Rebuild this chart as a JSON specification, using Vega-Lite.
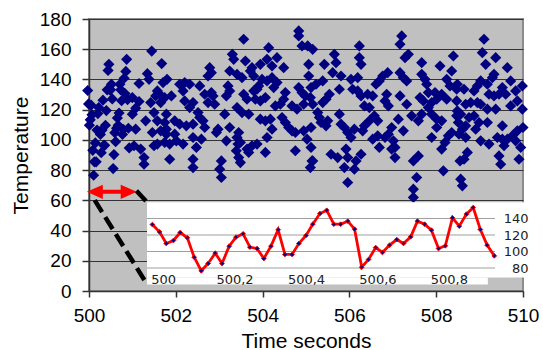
{
  "$schema": "https://vega.github.io/schema/vega-lite/v6.json",
  "width": 434,
  "height": 272,
  "autosize": {"type": "none"},
  "padding": {"left": 89, "top": 19, "right": 20, "bottom": 59},
  "background": "white",
  "config": {
    "view": {"fill": "#C0C0C0", "stroke": "#8c8c8c", "strokeWidth": 2}
  },
  "datasets": {
    "series": [
      {"t":499.970,"v":132.7},{"t":499.990,"v":123.8},{"t":500.009,"v":109.7},{"t":500.029,"v":113.3},{"t":500.048,"v":123.0},
      {"t":500.068,"v":116.6},{"t":500.087,"v":93.1},{"t":500.107,"v":76.6},{"t":500.126,"v":85.5},{"t":500.146,"v":98.0},
      {"t":500.165,"v":85.5},{"t":500.185,"v":106.5},{"t":500.204,"v":117.4},{"t":500.224,"v":121.4},{"t":500.243,"v":105.3},
      {"t":500.263,"v":103.6},{"t":500.282,"v":91.5},{"t":500.302,"v":106.5},{"t":500.322,"v":126.3},{"t":500.341,"v":96.4},
      {"t":500.361,"v":96.4},{"t":500.380,"v":109.7},{"t":500.400,"v":119.4},{"t":500.419,"v":133.1},{"t":500.439,"v":146.0},
      {"t":500.458,"v":150.0},{"t":500.478,"v":133.1},{"t":500.497,"v":133.1},{"t":500.517,"v":136.8},{"t":500.536,"v":127.1},
      {"t":500.556,"v":81.0},{"t":500.575,"v":90.3},{"t":500.595,"v":104.8},{"t":500.614,"v":98.8},{"t":500.634,"v":107.7},
      {"t":500.654,"v":114.5},{"t":500.673,"v":109.7},{"t":500.693,"v":117.8},{"t":500.712,"v":136.8},{"t":500.732,"v":133.1},
      {"t":500.751,"v":125.9},{"t":500.771,"v":103.6},{"t":500.790,"v":106.9},{"t":500.810,"v":140.8},{"t":500.829,"v":130.7},
      {"t":500.849,"v":145.3},{"t":500.868,"v":153.3},{"t":500.888,"v":126.7},{"t":500.907,"v":107.7},{"t":500.927,"v":94.7},
      {"t":501.445,"v":158.8},{"t":501.675,"v":150.5},{"t":501.345,"v":143.8},{"t":501.383,"v":140.1},{"t":501.153,"v":137.3},
      {"t":501.575,"v":132.4},{"t":501.706,"v":137.9},{"t":500.999,"v":128.0},{"t":501.153,"v":125.4},{"t":501.076,"v":121.0},
      {"t":501.422,"v":124.7},{"t":501.537,"v":129.1},{"t":501.652,"v":124.7},{"t":501.306,"v":112.6},{"t":501.575,"v":112.6},
      {"t":501.498,"v":118.1},{"t":500.999,"v":117.0},{"t":501.076,"v":107.1},{"t":501.46,"v":104.9},{"t":501.652,"v":106.0},
      {"t":501.037,"v":96.1},{"t":501.191,"v":93.9},{"t":501.268,"v":88.3},{"t":501.498,"v":96.1},{"t":501.575,"v":97.2},
      {"t":501.268,"v":83.9},
      {"t":503.303,"v":156.6},{"t":503.334,"v":153.3},{"t":502.781,"v":147.8},{"t":502.819,"v":144.5},{"t":502.743,"v":142.3},
      {"t":503.242,"v":145.6},{"t":501.798,"v":140.1},{"t":502.09,"v":136.8},{"t":502.205,"v":137.9},{"t":502.32,"v":136.8},
      {"t":502.167,"v":132.4},{"t":502.551,"v":135.7},{"t":502.666,"v":130.2},{"t":502.819,"v":131.3},{"t":502.858,"v":129.1},
      {"t":503.203,"v":135.7},{"t":503.242,"v":132.4},{"t":503.165,"v":129.1},{"t":501.629,"v":130.2},{"t":501.744,"v":128.0},
      {"t":501.898,"v":129.1},{"t":502.397,"v":124.7},{"t":502.32,"v":121.4},{"t":502.205,"v":125.8},{"t":502.743,"v":124.7},
      {"t":502.896,"v":123.6},{"t":503.127,"v":117.0},{"t":501.783,"v":117.0},{"t":502.512,"v":118.1},{"t":502.551,"v":114.8},
      {"t":502.627,"v":112.6},{"t":502.666,"v":108.2},{"t":501.975,"v":112.6},{"t":502.09,"v":110.4},{"t":502.243,"v":109.3},
      {"t":502.397,"v":110.4},{"t":501.744,"v":111.5},{"t":501.783,"v":107.1},{"t":502.973,"v":107.1},{"t":502.935,"v":104.9},
      {"t":503.242,"v":108.2},{"t":501.975,"v":103.8},{"t":502.013,"v":99.4},{"t":501.859,"v":97.2},{"t":501.783,"v":103.8},
      {"t":501.744,"v":98.3},{"t":502.397,"v":101.6},{"t":502.474,"v":95.0},{"t":502.589,"v":100.5},{"t":502.167,"v":97.2},
      {"t":503.165,"v":99.4},{"t":503.434,"v":97.2},{"t":503.395,"v":92.8},{"t":501.859,"v":87.2},{"t":502.397,"v":87.2},
      {"t":502.397,"v":81.7},{"t":503.05,"v":86.1},{"t":503.011,"v":80.6},{"t":503.05,"v":75.1},
      {"t":503.564,"v":166.6},{"t":504.832,"v":172.1},{"t":504.832,"v":168.8},{"t":504.908,"v":162.2},{"t":504.140,"v":161.0},
      {"t":503.603,"v":152.2},{"t":504.102,"v":153.3},{"t":504.332,"v":154.4},{"t":504.486,"v":147.8},{"t":504.217,"v":148.9},
      {"t":503.948,"v":150.0},{"t":505.062,"v":150.0},{"t":503.756,"v":147.8},{"t":503.718,"v":145.6},{"t":503.795,"v":142.3},
      {"t":503.411,"v":143.4},{"t":503.526,"v":141.2},{"t":503.987,"v":140.1},{"t":504.102,"v":139.0},{"t":504.217,"v":141.2},
      {"t":504.332,"v":137.9},{"t":504.256,"v":134.6},{"t":503.91,"v":135.7},{"t":503.872,"v":133.5},{"t":503.795,"v":132.4},
      {"t":505.062,"v":142.3},{"t":504.832,"v":134.6},{"t":504.908,"v":131.3},{"t":504.985,"v":129.1},{"t":505.1,"v":128.0},
      {"t":504.524,"v":131.3},{"t":504.486,"v":126.9},{"t":503.564,"v":130.2},{"t":503.641,"v":126.9},{"t":503.833,"v":126.9},
      {"t":503.948,"v":125.8},{"t":504.064,"v":128.0},{"t":504.678,"v":122.5},{"t":504.793,"v":120.3},{"t":504.947,"v":123.6},
      {"t":504.409,"v":123.6},{"t":504.294,"v":122.5},{"t":503.411,"v":121.4},{"t":503.526,"v":118.1},{"t":503.68,"v":117.0},
      {"t":503.948,"v":113.7},{"t":504.064,"v":112.6},{"t":504.179,"v":113.7},{"t":504.448,"v":114.8},{"t":504.524,"v":111.5},
      {"t":504.601,"v":108.2},{"t":504.678,"v":106.0},{"t":504.755,"v":104.9},{"t":504.217,"v":107.1},{"t":504.102,"v":101.6},
      {"t":504.947,"v":106.0},{"t":505.024,"v":100.5},{"t":503.449,"v":104.9},{"t":503.411,"v":101.6},{"t":503.488,"v":98.3},
      {"t":503.756,"v":96.1},{"t":503.872,"v":97.2},{"t":503.641,"v":93.9},{"t":503.68,"v":91.7},{"t":504.064,"v":91.7},
      {"t":504.755,"v":92.8},{"t":503.449,"v":88.3},{"t":503.488,"v":85.0},{"t":505.139,"v":86.1},{"t":505.1,"v":81.7},
      {"t":506.229,"v":162.2},{"t":506.229,"v":154.4},{"t":506.268,"v":150.0},{"t":505.653,"v":156.6},{"t":505.692,"v":151.1},
      {"t":505.423,"v":150.0},{"t":505.615,"v":144.5},{"t":505.039,"v":162.2},{"t":505.154,"v":159.9},{"t":505.807,"v":142.3},
      {"t":506.037,"v":140.1},{"t":506.191,"v":141.2},{"t":506.882,"v":144.5},{"t":506.767,"v":142.3},{"t":506.69,"v":139.0},
      {"t":506.613,"v":136.8},{"t":505.116,"v":134.6},{"t":505.231,"v":136.8},{"t":505.385,"v":139.0},{"t":505.769,"v":133.5},
      {"t":506.076,"v":133.5},{"t":506.191,"v":132.4},{"t":506.268,"v":129.1},{"t":506.421,"v":130.2},{"t":506.537,"v":129.1},
      {"t":505.154,"v":123.6},{"t":505.538,"v":130.2},{"t":505.461,"v":126.9},{"t":505.385,"v":124.7},{"t":506.46,"v":121.4},
      {"t":506.345,"v":122.5},{"t":505.27,"v":118.1},{"t":505.308,"v":114.8},{"t":505.346,"v":111.5},{"t":505.5,"v":112.6},
      {"t":505.461,"v":109.3},{"t":505.769,"v":117.0},{"t":505.807,"v":110.4},{"t":505.884,"v":108.2},{"t":505.961,"v":104.9},
      {"t":506.114,"v":107.1},{"t":506.575,"v":115.9},{"t":506.652,"v":112.6},{"t":506.46,"v":112.6},{"t":506.345,"v":109.3},
      {"t":506.306,"v":106.0},{"t":505.116,"v":108.2},{"t":506.037,"v":101.6},{"t":506.652,"v":102.7},{"t":506.537,"v":100.5},
      {"t":505.116,"v":95.0},{"t":506.69,"v":95.0},{"t":505.154,"v":86.1},{"t":505.577,"v":90.5},{"t":505.73,"v":88.3},
      {"t":505.922,"v":93.9},{"t":505.961,"v":88.3},{"t":505.884,"v":81.7},{"t":506.153,"v":86.1},{"t":506.268,"v":90.5},
      {"t":506.114,"v":80.6},{"t":505.961,"v":71.8},
      {"t":507.205,"v":168.8},{"t":507.166,"v":163.3},{"t":507.358,"v":156.6},{"t":507.282,"v":154.4},{"t":507.666,"v":151.1},
      {"t":508.395,"v":155.5},{"t":508.088,"v":148.9},{"t":508.357,"v":145.6},{"t":507.166,"v":144.5},{"t":507.32,"v":139.0},
      {"t":507.243,"v":141.2},{"t":507.666,"v":143.4},{"t":507.742,"v":140.1},{"t":507.781,"v":136.8},{"t":508.242,"v":140.1},
      {"t":508.318,"v":135.7},{"t":508.472,"v":133.5},{"t":507.819,"v":131.3},{"t":507.973,"v":131.3},{"t":508.126,"v":130.2},
      {"t":508.011,"v":126.9},{"t":507.896,"v":124.7},{"t":506.859,"v":130.2},{"t":506.821,"v":125.8},{"t":506.898,"v":122.5},
      {"t":507.166,"v":129.1},{"t":507.627,"v":128.0},{"t":507.704,"v":125.8},{"t":508.242,"v":126.9},{"t":508.472,"v":125.8},
      {"t":507.32,"v":123.6},{"t":507.819,"v":121.4},{"t":507.896,"v":117.0},{"t":507.666,"v":117.0},{"t":507.435,"v":115.9},
      {"t":507.589,"v":112.6},{"t":507.128,"v":113.7},{"t":508.011,"v":113.7},{"t":508.126,"v":112.6},{"t":508.011,"v":108.2},
      {"t":508.472,"v":115.9},{"t":508.51,"v":111.5},{"t":506.974,"v":108.2},{"t":507.243,"v":106.0},{"t":506.898,"v":103.8},
      {"t":506.821,"v":101.6},{"t":508.357,"v":104.9},{"t":508.28,"v":102.7},{"t":507.896,"v":101.6},{"t":507.013,"v":99.4},
      {"t":507.051,"v":95.0},{"t":506.974,"v":93.9},{"t":507.051,"v":88.3},{"t":508.203,"v":98.3},{"t":508.126,"v":93.9},
      {"t":507.589,"v":89.4},{"t":507.474,"v":86.1},{"t":508.549,"v":86.1},{"t":508.165,"v":79.5},{"t":507.55,"v":75.1},
      {"t":507.474,"v":67.4},{"t":507.474,"v":61.9},
      {"t":509.102,"v":166.6},{"t":509.063,"v":157.7},{"t":509.371,"v":154.4},{"t":509.14,"v":150.0},{"t":509.639,"v":147.8},
      {"t":509.332,"v":143.4},{"t":509.294,"v":141.2},{"t":509.025,"v":139.0},{"t":509.179,"v":136.8},{"t":508.871,"v":132.4},
      {"t":508.948,"v":135.7},{"t":509.716,"v":139.0},{"t":509.985,"v":135.7},{"t":509.831,"v":132.4},{"t":508.641,"v":133.5},
      {"t":508.487,"v":136.8},{"t":509.524,"v":134.6},{"t":509.601,"v":130.2},{"t":509.217,"v":130.2},{"t":509.332,"v":129.1},
      {"t":509.447,"v":130.2},{"t":508.795,"v":124.7},{"t":508.679,"v":123.6},{"t":508.948,"v":124.7},{"t":509.025,"v":123.6},
      {"t":509.87,"v":125.8},{"t":509.716,"v":122.5},{"t":509.179,"v":120.3},{"t":509.371,"v":120.3},{"t":509.985,"v":120.3},
      {"t":508.487,"v":119.2},{"t":508.564,"v":117.0},{"t":508.756,"v":114.8},{"t":508.871,"v":115.9},{"t":508.679,"v":109.3},
      {"t":508.987,"v":111.5},{"t":509.179,"v":111.5},{"t":509.524,"v":109.3},{"t":510.0,"v":108.2},{"t":509.87,"v":106.0},
      {"t":508.603,"v":107.1},{"t":508.526,"v":103.8},{"t":508.679,"v":101.6},{"t":508.91,"v":107.1},{"t":509.409,"v":101.6},
      {"t":509.524,"v":100.5},{"t":509.639,"v":100.5},{"t":509.755,"v":102.7},{"t":509.831,"v":99.4},{"t":509.025,"v":99.4},
      {"t":509.217,"v":97.2},{"t":509.563,"v":96.1},{"t":509.947,"v":95.0},{"t":508.718,"v":91.7},{"t":508.641,"v":87.2},
      {"t":509.447,"v":89.4},{"t":509.486,"v":83.9},{"t":509.908,"v":87.2},{"t":508.564,"v":74.0},{"t":508.603,"v":69.6}
    ],
    "dashes": [
      {"t": 500.131, "v": 60.1, "t2": 501.323, "v2": 5.1},
      {"t": 501.092, "v": 66.3, "t2": 501.323, "v2": 59.2}
    ],
    "arrow": [{"t": 500.134, "t2": 500.915, "v": 65.6}],
    "heads": [
      {"t": 500.134, "v": 65.6, "dir": "left"},
      {"t": 500.915, "v": 65.6, "dir": "right"}
    ],
    "panels": [
      {"t": 499.955, "t2": 501.035, "v": 68.6, "v2": 159.8},
      {"t": 499.955, "t2": 500.909, "v": 60, "v2": 68.6}
    ],
    "insetGrid": [
      {"t": 499.955, "t2": 500.929, "v": 80},
      {"t": 499.955, "t2": 500.929, "v": 100},
      {"t": 499.955, "t2": 500.929, "v": 120},
      {"t": 499.955, "t2": 500.929, "v": 140}
    ]
  },
  "layer": [
    {
      "encoding": {
        "x": {
          "field": "t", "type": "quantitative", "title": "Time seconds",
          "scale": {"domain": [500, 510], "nice": false, "zero": false},
          "axis": {
            "orient": "bottom", "values": [500, 502, 504, 506, 508, 510], "format": "d",
            "grid": false, "tickSize": 6, "labelPadding": 9, "titlePadding": 5,
            "labelFont": "Liberation Sans", "labelFontSize": 19, "labelColor": "#000",
            "titleFont": "Liberation Sans", "titleFontSize": 21, "titleFontWeight": "normal", "titleColor": "#000",
            "domainColor": "#333", "domainWidth": 1.5, "tickColor": "#333", "tickWidth": 1.5,
            "labelFlush": false, "zindex": 0
          }
        },
        "y": {
          "field": "v", "type": "quantitative", "title": "Temperature",
          "scale": {"domain": [0, 180], "nice": false, "zero": false},
          "axis": {
            "orient": "left", "values": [0, 20, 40, 60, 80, 100, 120, 140, 160, 180],
            "grid": true, "gridColor": "#333", "gridWidth": 1.2, "gridOpacity": 1,
            "tickSize": 7, "labelPadding": 11, "titlePadding": 8,
            "labelFont": "Liberation Sans", "labelFontSize": 19, "labelColor": "#000",
            "titleFont": "Liberation Sans", "titleFontSize": 21, "titleFontWeight": "normal", "titleColor": "#000",
            "domainColor": "#333", "domainWidth": 1.5, "tickColor": "#333", "tickWidth": 1.5,
            "labelFlush": false, "zindex": 0
          }
        }
      },
      "layer": [
        {
          "data": {"name": "series"},
          "mark": {"type": "point", "shape": "diamond", "filled": true, "size": 125, "color": "#000080", "opacity": 1}
        },
        {
          "data": {"name": "dashes"},
          "mark": {"type": "rule", "color": "#000000", "strokeWidth": 4.5, "strokeDash": [14, 6]},
          "encoding": {"x2": {"field": "t2"}, "y2": {"field": "v2"}}
        },
        {
          "data": {"name": "arrow"},
          "mark": {"type": "rule", "color": "#FF0000", "strokeWidth": 4},
          "encoding": {"x2": {"field": "t2"}}
        },
        {
          "data": {"name": "heads"},
          "mark": {"type": "point", "filled": true, "size": 256, "color": "#FF0000", "opacity": 1},
          "encoding": {
            "shape": {
              "field": "dir", "type": "nominal", "legend": null,
              "scale": {"domain": ["left", "right"], "range": ["M-1,0L1,-0.9L1,0.9Z", "M1,0L-1,-0.9L-1,0.9Z"]}
            }
          }
        }
      ]
    },
    {
      "encoding": {
        "x": {
          "field": "t", "type": "quantitative",
          "scale": {"domain": [499.955, 500.929], "range": [58, 406], "nice": false, "zero": false},
          "axis": {
            "orient": "bottom", "title": null, "values": [500, 500.2, 500.4, 500.6, 500.8],
            "labelExpr": "datum.value == 500 ? '500' : replace(format(datum.value, '.1f'), '.', ',')",
            "grid": false, "ticks": false, "tickSize": 0, "domain": false,
            "labelPadding": 0, "labelBaseline": "middle", "offset": -12,
            "labelFont": "DejaVu Sans", "labelFontSize": 13, "labelColor": "#222",
            "labelFlush": false, "labelOverlap": false, "zindex": 1
          }
        },
        "y": {
          "field": "v", "type": "quantitative",
          "scale": {"domain": [60, 160], "range": [265.5, 183], "nice": false, "zero": false},
          "axis": {
            "orient": "right", "title": null, "values": [80, 100, 120, 140],
            "grid": false, "ticks": false, "tickSize": 0, "domain": false,
            "labelPadding": 0, "labelAlign": "right", "labelBaseline": "middle", "offset": 5,
            "labelFont": "DejaVu Sans", "labelFontSize": 13, "labelColor": "#222",
            "labelFlush": false, "labelOverlap": false, "zindex": 1
          }
        }
      },
      "layer": [
        {
          "data": {"name": "panels"},
          "mark": {"type": "rect", "color": "#FFFFFF", "opacity": 1},
          "encoding": {"x2": {"field": "t2"}, "y2": {"field": "v2"}}
        },
        {
          "data": {"name": "insetGrid"},
          "mark": {"type": "rule", "color": "#A0A0A0", "strokeWidth": 1.2},
          "encoding": {"x2": {"field": "t2"}}
        },
        {
          "data": {"name": "series"},
          "transform": [{"filter": "datum.t < 500.93"}],
          "mark": {"type": "line", "color": "#FF0000", "strokeWidth": 2.8}
        },
        {
          "data": {"name": "series"},
          "transform": [{"filter": "datum.t < 500.93"}],
          "mark": {"type": "point", "shape": "diamond", "filled": true, "size": 22, "fill": "#000080", "stroke": "#FF0000", "strokeWidth": 1, "opacity": 1}
        }
      ]
    }
  ],
  "resolve": {"scale": {"x": "independent", "y": "independent"}}
}
